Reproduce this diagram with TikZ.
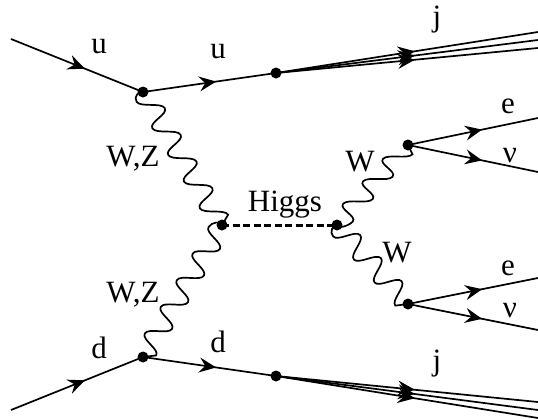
\documentclass[tikz,border=0pt]{standalone}
\usepackage{fontspec}
\setmainfont{Liberation Serif}
\usetikzlibrary{decorations.markings,arrows.meta}
\pgfdeclaredecoration{wiggle}{init}{%
  \state{init}[width=\wfirst,next state=up]{%
    \pgfpathcurveto{\pgfpoint{-3pt}{-3pt}}{\pgfpoint{\wfirst-6pt}{-\wamp}}{\pgfpoint{\wfirst}{-\wamp}}}
  \state{up}[width=\wup,next state=down,switch if less than=\wup to lastlow]{%
    \pgfpathcurveto{\pgfpoint{\wctl}{-\wamp}}{\pgfpoint{\wup-\wctl}{\wamp}}{\pgfpoint{\wup}{\wamp}}}
  \state{down}[width=\wdown,next state=up,switch if less than=\wdown to lasthigh]{%
    \pgfpathcurveto{\pgfpoint{\wctl}{\wamp}}{\pgfpoint{\wdown-\wctl}{-\wamp}}{\pgfpoint{\wdown}{-\wamp}}}
  \state{lastlow}[width=\pgfdecoratedremainingdistance,next state=final]{%
    \pgfpathcurveto{\pgfpoint{5pt}{-\wamp}}{\pgfpointadd{\pgfpointdecoratedpathlast}{\pgfpoint{0pt}{-4pt}}}{\pgfpointdecoratedpathlast}}
  \state{lasthigh}[width=\pgfdecoratedremainingdistance,next state=final]{%
    \pgfpathcurveto{\pgfpoint{5pt}{\wamp}}{\pgfpointadd{\pgfpointdecoratedpathlast}{\pgfpoint{0pt}{4pt}}}{\pgfpointdecoratedpathlast}}
  \state{final}{\pgfpathlineto{\pgfpointdecoratedpathlast}}
}
\def\wctl{7pt}
\tikzset{
  wiggly/.code n args={4}{\def\wfirst{#1pt}\def\wup{#2pt}\def\wdown{#3pt}\def\wamp{#4pt}\tikzset{decorate,decoration=wiggle}},
  boson/.style={draw=black,line width=1.7pt},
  vertexdot/.style={circle,fill=black,inner sep=0pt,minimum size=11pt},
  fermion/.style={draw=black,line width=1.7pt,postaction={decorate,decoration={markings,mark=at position #1 with {\arrow{Stealth[length=17pt,width=15pt,inset=6pt]}}}}},
  higgs/.style={draw=black,line width=3pt,dash pattern=on 7pt off 3.5pt},
  lab/.style={anchor=base,inner sep=0pt,font=\fontsize{31}{31}\selectfont}
}
\begin{document}
\begin{tikzpicture}[x=1pt,y=-1pt]
\useasboundingbox (0,0) rectangle (538,418);
\coordinate (inu) at (11,39);
\coordinate (ind) at (11,410);
\coordinate (j1a) at (538,32);
\coordinate (j1b) at (538,40);
\coordinate (j1c) at (538,48);
\coordinate (j2a) at (538,402);
\coordinate (j2b) at (538,410);
\coordinate (j2c) at (538,418);
\coordinate (e1) at (538,118);
\coordinate (n1) at (538,172);
\coordinate (e2) at (538,278);
\coordinate (n2) at (538,330);
\node[vertexdot] (A) at (143,92) {};
\node[vertexdot] (B) at (222,225) {};
\node[vertexdot] (C) at (143,357) {};
\node[vertexdot] (D) at (337,225) {};
\node[vertexdot] (E) at (408,145) {};
\node[vertexdot] (F) at (408,304) {};
\node[vertexdot] (G) at (276,73) {};
\node[vertexdot] (H) at (276,376) {};
\path[fermion=0.56] (inu) -- (A.center);
\path[fermion=0.56] (ind) -- (C.center);
\path[fermion=0.55] (A.center) -- (G.center);
\path[fermion=0.55] (C.center) -- (H.center);
\foreach \t in {j1a,j1b,j1c}{\path[fermion=0.53] (G.center) -- (\t);}
\foreach \t in {j2a,j2b,j2c}{\path[fermion=0.53] (H.center) -- (\t);}
\path[fermion=0.57] (E.center) -- (e1);
\path[fermion=0.57] (E.center) -- (n1);
\path[fermion=0.57] (F.center) -- (e2);
\path[fermion=0.57] (F.center) -- (n2);
\path[higgs] (B.center) -- (D.center);
\path[boson,wiggly={5}{20}{11}{10.5}] (A.center) -- (B.center);
\path[boson,wiggly={8.7}{13}{18}{10.5}] (B.center) -- (C.center);
\path[boson,wiggly={13}{7}{23}{9.5}] (D.center) -- (E.center);
\path[boson,wiggly={6}{17}{14}{10.5}] (D.center) -- (F.center);
\node[lab] (l1) at (99,53) {u};
\node[lab] (l2) at (218,58) {u};
\node[lab] (l3) at (133,166) {W,Z};
\node[lab] (l4) at (133,302) {W,Z};
\node[lab] (l5) at (99,358) {d};
\node[lab] (l6) at (218,352) {d};
\node[lab] (l7) at (285,211) {Higgs};
\node[lab] (l8) at (437,26) {j};
\node[lab] (l9) at (437,370) {j};
\node[lab] (l10) at (508,113) {e};
\node[lab] (l11) at (510,162) {ν};
\node[lab] (l12) at (508,275) {e};
\node[lab] (l13) at (510,317) {ν};
\node[lab] (l14) at (360,171) {W};
\node[lab] (l15) at (397,262) {W};
\end{tikzpicture}
\end{document}
